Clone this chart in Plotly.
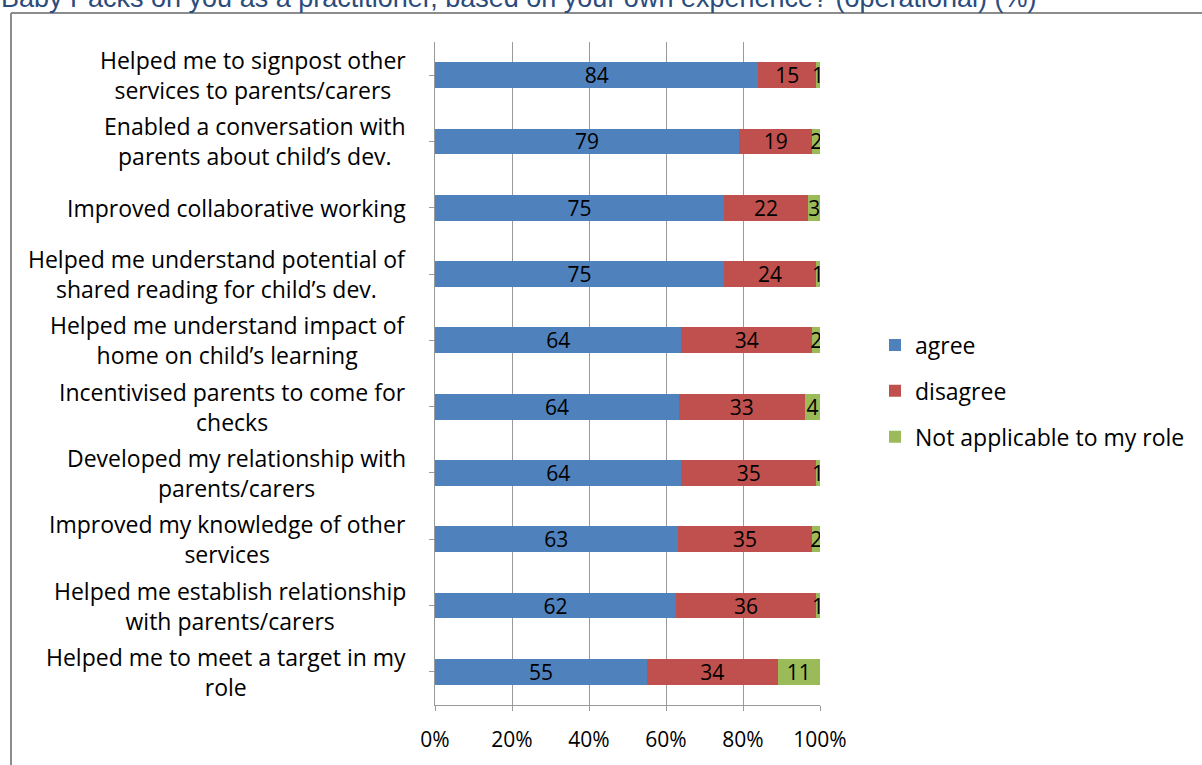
import plotly.graph_objects as go

categories = [
    "Helped me to signpost other<br>services to parents/carers",
    "Enabled a conversation with<br>parents about child’s dev.",
    "Improved collaborative working",
    "Helped me understand potential of<br>shared reading for child’s dev.",
    "Helped me understand impact of<br>home on child’s learning",
    "Incentivised parents to come for<br>checks",
    "Developed my relationship with<br>parents/carers",
    "Improved my knowledge of other<br>services",
    "Helped me establish relationship<br>with parents/carers",
    "Helped me to meet a target in my<br>role",
]
agree = [84, 79, 75, 75, 64, 64, 64, 63, 62, 55]
disagree = [15, 19, 22, 24, 34, 33, 35, 35, 36, 34]
not_applicable = [1, 2, 3, 1, 2, 4, 1, 2, 1, 11]
series_names = ["agree", "disagree", "Not applicable to my role"]
colors = ["#4F81BD", "#C0504D", "#9BBB59"]
x_ticks = [0, 20, 40, 60, 80, 100]
title_text = "Baby Packs on you as a practitioner, based on your own experience? (operational) (%)"

FONT = "Open Sans"
W, H = 1202, 765
L, R, T, B = 435, 382, 42, 58
pw, ph = W - L - R, H - T - B

def px2x(px):
    return (px - L) / pw

def px2y(py):
    return (H - B - py) / ph

ids = list(range(len(categories)))
fig = go.Figure()
for name, vals, col in zip(series_names, [agree, disagree, not_applicable], colors):
    fig.add_trace(go.Bar(
        y=ids, x=vals, name=name, orientation="h",
        marker=dict(color=col, line=dict(width=0)),
        text=[str(v) for v in vals], textposition="inside",
        insidetextanchor="middle", textangle=0,
        textfont=dict(family=FONT, size=21, color="black"),
        legendgroup=name, hoverinfo="skip",
    ))

for i, c in enumerate(categories):
    fig.add_annotation(
        x=px2x(408), y=i, xref="paper", yref="y", text=c, showarrow=False,
        xanchor="right", align="center",
        font=dict(family=FONT, size=23, color="black"),
    )

fig.add_annotation(
    x=px2x(-1), y=px2y(15), xref="paper", yref="paper", text=title_text,
    showarrow=False, xanchor="left", yanchor="bottom",
    font=dict(family="Liberation Sans", size=27, color="#2C4C7C"),
)

# frame
fig.add_shape(type="line", xref="paper", yref="paper",
              x0=px2x(11), x1=px2x(1210), y0=px2y(13), y1=px2y(13),
              line=dict(color="#8C8C8C", width=2))
fig.add_shape(type="line", xref="paper", yref="paper",
              x0=px2x(11), x1=px2x(11), y0=px2y(13), y1=px2y(770),
              line=dict(color="#8C8C8C", width=2))

fig.update_layout(
    width=W, height=H,
    margin=dict(l=L, r=R, t=T, b=B),
    barmode="stack", barnorm="percent", bargap=0.61,
    plot_bgcolor="white", paper_bgcolor="white",
    uniformtext=dict(minsize=21, mode="show"),
    legend=dict(
        x=px2x(875), y=px2y(392), xanchor="left", yanchor="middle",
        font=dict(family=FONT, size=23, color="black"),
        tracegroupgap=13, itemwidth=30,
    ),
    xaxis=dict(
        range=[0, 100], tickvals=x_ticks, ticktext=[f"{v}%" for v in x_ticks],
        showgrid=True, gridcolor="#9A9A9A", gridwidth=1,
        showline=True, linecolor="#9A9A9A", linewidth=1,
        ticks="outside", ticklen=5, tickcolor="#9A9A9A",
        ticklabelstandoff=11,
        tickfont=dict(family=FONT, size=21, color="black"),
        zeroline=False, fixedrange=True,
    ),
    yaxis=dict(
        range=[len(categories) - 0.5, -0.5], tickvals=ids,
        showticklabels=False, tickson="boundaries",
        ticks="outside", ticklen=5, tickcolor="#9A9A9A",
        showline=True, linecolor="#9A9A9A", linewidth=1,
        showgrid=False, zeroline=False, fixedrange=True,
    ),
    showlegend=True,
)

fig.write_html("out.html", config={"displayModeBar": False},
               post_script="document.body.style.margin='0';")
